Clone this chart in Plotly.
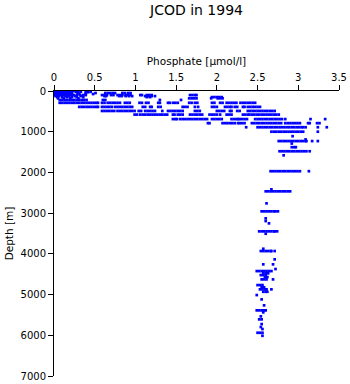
import plotly.graph_objects as go

# Phosphate profiles grouped by sampling depth (m) -> phosphate values (umol/l)
depth_levels = [
    0, 10, 20, 30, 50, 75, 100, 125, 150, 180, 220, 290, 390, 490, 580, 690, 790,
    890, 1000, 1110, 1190, 1230, 1290, 1380, 1480, 1580, 1970, 2415, 2464, 2760,
    2956, 3128, 3194, 3251, 3447, 3506, 3875, 3931, 4135, 4258, 4373, 4423, 4479,
    4521, 4570, 4627, 4767, 4823, 4872, 4931, 5012, 5118, 5265, 5388, 5437, 5535,
    5609, 5725, 5798, 5847, 5938, 6012,
]

phosphate_by_level = [
    [0.00, 0.02, 0.04, 0.06, 0.08, 0.10, 0.12, 0.14, 0.16, 0.18, 0.20, 0.24, 0.29],
    [0.01, 0.03, 0.05, 0.07, 0.09, 0.11, 0.13, 0.15, 0.17, 0.19, 0.21],
    [0.00, 0.03, 0.06, 0.09, 0.12, 0.15, 0.18, 0.21, 0.27, 0.33, 0.39, 0.45],
    [0.01, 0.04, 0.07, 0.10, 0.13, 0.16, 0.19, 0.22, 0.30, 0.42],
    [0.00, 0.03, 0.06, 0.09, 0.12, 0.15, 0.18, 0.21, 0.29, 0.39, 0.51,
     0.63, 0.66, 0.69, 0.72, 0.75, 0.84, 0.87, 0.91, 0.94],
    [0.01, 0.04, 0.07, 0.10, 0.13, 0.16, 0.19, 0.22, 0.31, 0.39, 0.48],
    [0.00, 0.04, 0.08, 0.12, 0.16, 0.20, 0.24, 0.28, 0.32, 0.36, 0.39,
     0.59, 0.62, 0.65, 0.70, 0.73, 0.78, 0.81, 0.84, 0.88, 0.91, 0.94, 1.06, 1.08, 1.14,
     1.17, 1.20, 1.67, 1.70, 1.73, 1.75],
    [0.02, 0.06, 0.10, 0.14, 0.18, 0.22, 0.26, 0.33, 0.62,
     0.64, 0.80, 0.83, 0.88, 0.92, 0.96, 1.12, 1.16, 1.20, 1.24],
    [0.04, 0.10, 0.16, 0.22, 0.28, 0.36, 1.14, 1.18, 1.94, 1.97, 2.00,
     2.03, 2.06],
    [0.05, 0.12, 0.20, 0.30, 1.66, 1.69, 1.72, 1.75, 1.93, 2.01, 2.04, 2.07],
    [0.07, 0.10, 0.13, 0.16, 0.19, 0.22, 0.25, 0.28, 0.31, 0.34, 0.37, 0.40, 0.60, 0.63,
     1.30, 1.56],
    [0.07, 0.10, 0.13, 0.16, 0.19, 0.22, 0.25, 0.28, 0.31, 0.34, 0.37, 0.40, 0.43, 0.46,
     0.49, 0.52, 0.54, 0.59, 0.62, 0.66, 0.69, 0.72, 0.75, 0.78, 0.81, 0.87, 0.90, 0.93,
     1.05, 1.08, 1.13, 1.16, 1.28, 1.30, 1.40, 1.42, 1.46, 1.49, 1.52, 1.66, 1.69, 1.73,
     1.76, 1.94, 1.97, 2.04, 2.07, 2.12, 2.15, 2.18, 2.21, 2.24, 2.29, 2.32, 2.35, 2.38,
     2.41, 2.44, 2.47],
    [0.31, 0.34, 0.37, 0.40, 0.43, 0.46, 0.49, 0.52, 0.54, 0.59, 0.62, 0.65, 0.68, 0.71,
     0.75, 0.78, 0.81, 0.84, 0.87, 0.90, 0.93, 0.96, 1.09, 1.12, 1.18, 1.20, 1.28, 1.31,
     1.58, 1.61, 1.64, 1.73, 1.77, 1.94, 1.97, 2.00, 2.10, 2.13, 2.16, 2.18, 2.22, 2.25,
     2.32, 2.34, 2.38, 2.41, 2.44, 2.47, 2.50, 2.53],
    [0.59, 0.62, 0.65, 0.68, 0.71, 0.74, 0.78, 0.81, 0.84, 0.87, 0.90, 0.93, 0.96, 0.99,
     1.04, 1.07, 1.12, 1.15, 1.18, 1.21, 1.24, 1.33, 1.40, 1.43, 1.46, 1.49, 1.52, 1.55,
     1.58, 1.73, 1.76, 1.79, 2.00, 2.03, 2.06, 2.09, 2.16, 2.18, 2.25, 2.28, 2.38, 2.41,
     2.44, 2.47, 2.50, 2.53, 2.56, 2.59, 2.62, 2.65, 2.68, 2.71],
    [0.99, 1.02, 1.06, 1.09, 1.12, 1.15, 1.18, 1.21, 1.24, 1.27, 1.30, 1.33, 1.36, 1.39,
     1.46, 1.48, 1.52, 1.55, 1.58, 1.67, 1.70, 1.73, 1.76, 1.79, 1.82, 1.91, 1.94, 1.97,
     2.00, 2.04, 2.12, 2.15, 2.18, 2.32, 2.35, 2.38, 2.40, 2.43, 2.46, 2.49, 2.52, 2.55,
     2.58, 2.61, 2.64, 2.67, 2.70, 2.73, 2.76],
    [1.46, 1.49, 1.51, 1.55, 1.58, 1.61, 1.64, 1.67, 1.70, 1.73, 1.76, 1.79, 1.82, 1.85,
     1.88, 1.94, 1.97, 2.00, 2.03, 2.06, 2.18, 2.21, 2.24, 2.26, 2.28, 2.31, 2.34, 2.37,
     2.47, 2.50, 2.53, 2.56, 2.59, 2.62, 2.65, 2.68, 2.71, 2.74, 2.77, 2.80, 2.84, 3.15,
     3.33],
    [1.89, 1.91, 2.07, 2.10, 2.13, 2.16, 2.19, 2.22, 2.26, 2.28, 2.31, 2.34, 2.43, 2.46,
     2.49, 2.52, 2.55, 2.58, 2.61, 2.64, 2.67, 2.70, 2.73, 2.76, 2.79, 2.84, 2.87, 2.90,
     2.93, 2.96, 2.99, 3.02, 3.12, 3.14, 3.23, 3.26],
    [2.36, 2.50, 2.53, 2.56, 2.59, 2.62, 2.65, 2.68, 2.71, 2.74, 2.77, 2.80, 2.83, 2.86,
     2.89, 2.92, 2.95, 2.98, 3.01, 3.04, 3.06, 3.09, 3.24, 3.35],
    [2.67, 2.70, 2.73, 2.76, 2.79, 2.82, 2.85, 2.88, 2.91, 2.94, 2.97, 3.00, 3.03, 3.06,
     3.24],
    [2.93],
    [3.09],
    [2.76, 2.79, 2.82, 2.85, 2.88, 2.91, 2.94, 2.97, 3.00, 3.03, 3.06, 3.09, 3.10, 3.17,
     3.24],
    [2.92],
    [2.92, 2.95, 2.97],
    [2.77, 2.80, 2.83, 2.86, 2.89, 2.92, 2.95, 2.98, 3.01, 3.04, 3.07, 3.10, 3.14],
    [2.82],
    [2.66, 2.69, 2.72, 2.75, 2.78, 2.81, 2.84, 2.87, 2.90, 2.93, 2.96, 2.99, 3.02, 3.13],
    [2.67],
    [2.60, 2.63, 2.66, 2.69, 2.72, 2.75, 2.78, 2.81, 2.84, 2.87, 2.90],
    [2.61],
    [2.55, 2.58, 2.61, 2.64, 2.67, 2.70, 2.72, 2.75],
    [2.60],
    [2.60],
    [2.64],
    [2.52, 2.55, 2.58, 2.61, 2.64, 2.67, 2.70, 2.71, 2.74],
    [2.60],
    [2.57],
    [2.54, 2.57, 2.60, 2.63, 2.66, 2.67, 2.71],
    [2.71],
    [2.57, 2.69],
    [2.72],
    [2.49, 2.52, 2.55, 2.58, 2.61, 2.64, 2.67],
    [2.57, 2.60, 2.63],
    [2.54, 2.57, 2.60],
    [2.59, 2.62],
    [2.55, 2.58, 2.61, 2.69],
    [2.50, 2.53, 2.56],
    [2.55, 2.58],
    [2.53, 2.56, 2.59, 2.61, 2.67],
    [2.57, 2.60, 2.62],
    [2.49],
    [2.55],
    [2.58],
    [2.49, 2.52, 2.55, 2.58, 2.60],
    [2.57],
    [2.54],
    [2.52, 2.55],
    [2.55],
    [2.54],
    [2.56],
    [2.50, 2.53, 2.56],
    [2.56],
]

x_ticks = [0, 0.5, 1, 1.5, 2, 2.5, 3, 3.5]
x_tick_labels = ["0", "0.5", "1", "1.5", "2", "2.5", "3", "3.5"]
y_ticks = [0, 1000, 2000, 3000, 4000, 5000, 6000, 7000]

# flatten into one point cloud
phosphate = []
depth = []
for d, values in zip(depth_levels, phosphate_by_level):
    for v in values:
        phosphate.append(v)
        depth.append(d)

FONT = "DejaVu Sans"

fig = go.Figure(
    go.Scatter(
        x=phosphate,
        y=depth,
        mode="markers",
        marker=dict(symbol="square", size=2.7, color="#0000ff", line=dict(width=0)),
        showlegend=False,
        hoverinfo="x+y",
    )
)

fig.update_layout(
    width=350,
    height=384,
    margin=dict(l=54, r=11, t=91, b=8, autoexpand=False),
    paper_bgcolor="white",
    plot_bgcolor="white",
    font=dict(family=FONT, size=10, color="black"),
    title=dict(
        text="JCOD in 1994",
        x=0.5,
        xref="paper",
        xanchor="center",
        y=1 - 10 / 384,
        yref="container",
        yanchor="middle",
        font=dict(family=FONT, size=14, color="black"),
    ),
)

fig.update_xaxes(
    side="top",
    range=[0, 3.5],
    tickmode="array",
    tickvals=x_ticks,
    ticktext=x_tick_labels,
    ticks="outside",
    ticklen=5,
    tickcolor="black",
    showline=True,
    linecolor="black",
    linewidth=1,
    mirror=False,
    showgrid=False,
    zeroline=False,
    automargin=False,
    tickfont=dict(family=FONT, size=10),
    title=dict(text="Phosphate [\u00b5mol/l]", font=dict(family=FONT, size=10.5), standoff=4),
)

fig.update_yaxes(
    range=[7000, 0],
    tickmode="array",
    tickvals=y_ticks,
    ticks="outside",
    ticklen=5,
    tickcolor="black",
    showline=True,
    linecolor="black",
    linewidth=1,
    mirror=False,
    showgrid=False,
    zeroline=False,
    automargin=False,
    tickfont=dict(family=FONT, size=10),
    title=dict(text="Depth [m]", font=dict(family=FONT, size=10.5), standoff=4),
)

fig.write_html("out.html")
